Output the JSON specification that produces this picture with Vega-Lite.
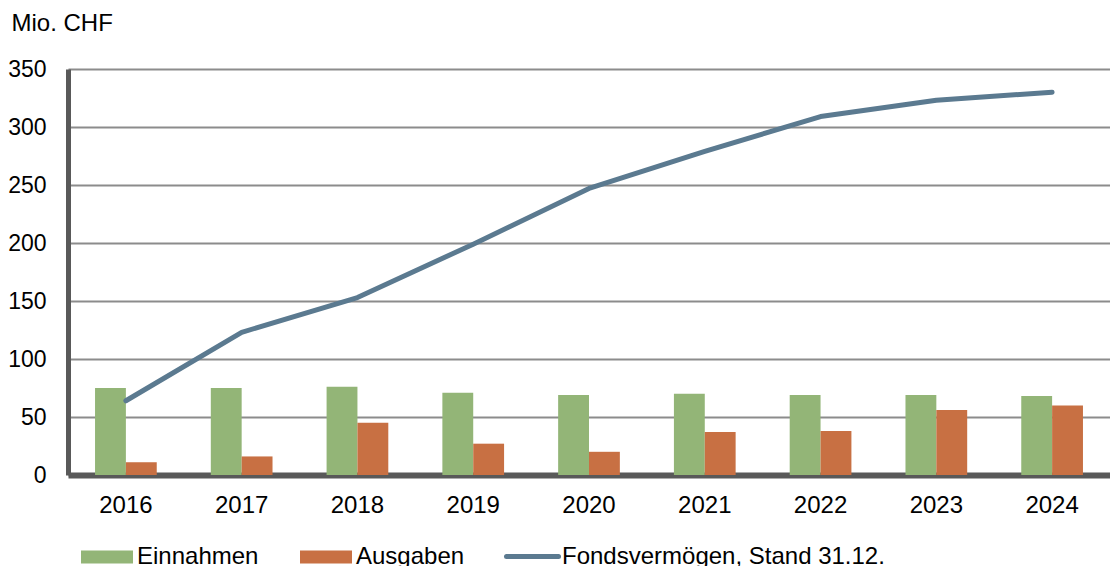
{
  "$schema": "https://vega.github.io/schema/vega-lite/v6.json",
  "width": 1042,
  "height": 406,
  "autosize": {"type": "none"},
  "padding": {"left": 68, "top": 69, "right": 0, "bottom": 91},
  "background": "white",
  "data": {
    "values": [
      {"year": "2016", "Einnahmen": 75, "Ausgaben": 11, "Fonds": 64},
      {"year": "2017", "Einnahmen": 75, "Ausgaben": 16, "Fonds": 123},
      {"year": "2018", "Einnahmen": 76, "Ausgaben": 45, "Fonds": 153},
      {"year": "2019", "Einnahmen": 71, "Ausgaben": 27, "Fonds": 199},
      {"year": "2020", "Einnahmen": 69, "Ausgaben": 20, "Fonds": 247},
      {"year": "2021", "Einnahmen": 70, "Ausgaben": 37, "Fonds": 279},
      {"year": "2022", "Einnahmen": 69, "Ausgaben": 38, "Fonds": 309},
      {"year": "2023", "Einnahmen": 69, "Ausgaben": 56, "Fonds": 323},
      {"year": "2024", "Einnahmen": 68, "Ausgaben": 60, "Fonds": 330}
    ]
  },
  "encoding": {
    "x": {
      "field": "year",
      "type": "nominal",
      "title": null,
      "scale": {"paddingInner": 0.467, "paddingOuter": 0.2335}
    }
  },
  "layer": [
    {
      "transform": [{"fold": ["Einnahmen", "Ausgaben"], "as": ["series", "value"]}],
      "mark": {"type": "bar"},
      "encoding": {
        "y": {
          "field": "value",
          "type": "quantitative",
          "title": "Mio. CHF",
          "scale": {"domain": [0, 350], "nice": false}
        },
        "xOffset": {
          "field": "series",
          "type": "nominal",
          "sort": ["Einnahmen", "Ausgaben"],
          "scale": {"paddingInner": 0, "paddingOuter": 0}
        },
        "fill": {
          "field": "series",
          "type": "nominal",
          "sort": ["Einnahmen", "Ausgaben"],
          "scale": {"domain": ["Einnahmen", "Ausgaben"], "range": ["#93b577", "#c87043"]},
          "legend": {
            "orient": "none",
            "legendX": 13,
            "legendY": 462,
            "direction": "horizontal",
            "title": null,
            "padding": 0,
            "symbolType": "M-1,-0.25H1V0.25H-1Z",
            "symbolSize": 2704,
            "symbolStrokeWidth": 0,
            "symbolOpacity": 1,
            "labelFontSize": 24,
            "labelFont": "Liberation Sans",
            "labelColor": "#000000",
            "labelOffset": 4,
            "labelLimit": 0,
            "columnPadding": 41
          }
        }
      }
    },
    {
      "mark": {"type": "line", "strokeWidth": 5, "strokeCap": "round", "strokeJoin": "round"},
      "encoding": {
        "y": {"field": "Fonds", "type": "quantitative", "title": "Mio. CHF"},
        "stroke": {
          "datum": "Fondsvermögen, Stand 31.12.",
          "type": "nominal",
          "scale": {"range": ["#5b7a90"]},
          "legend": {
            "orient": "none",
            "legendX": 436,
            "legendY": 459,
            "direction": "horizontal",
            "title": null,
            "padding": 0,
            "symbolType": "M-1,0H1",
            "symbolSize": 2704,
            "symbolStrokeWidth": 5,
            "symbolFillColor": "transparent",
            "labelFontSize": 24,
            "labelFont": "Liberation Sans",
            "labelColor": "#000000",
            "labelOffset": 1,
            "labelLimit": 0,
            "encode": {"symbols": {"update": {"strokeCap": {"value": "round"}}}}
          }
        }
      }
    }
  ],
  "config": {
    "view": {"stroke": null},
    "font": "Liberation Sans",
    "axisY": {
      "values": [0, 50, 100, 150, 200, 250, 300, 350],
      "grid": true,
      "gridColor": "#8c8c8c",
      "gridWidth": 2,
      "domainColor": "#595959",
      "domainWidth": 5,
      "ticks": false,
      "labelPadding": 22,
      "labelFontSize": 23,
      "labelColor": "#000000",
      "labelFont": "Liberation Sans",
      "titleAngle": 0,
      "titleX": -57,
      "titleY": -39,
      "titleAlign": "left",
      "titleBaseline": "alphabetic",
      "titleFontSize": 24,
      "titleFontWeight": "normal",
      "titleColor": "#000000",
      "titleFont": "Liberation Sans"
    },
    "axisX": {
      "grid": false,
      "domainColor": "#595959",
      "domainWidth": 6,
      "ticks": false,
      "labelAngle": 0,
      "labelPadding": 18,
      "labelFontSize": 24,
      "labelColor": "#000000",
      "labelFont": "Liberation Sans"
    }
  }
}
